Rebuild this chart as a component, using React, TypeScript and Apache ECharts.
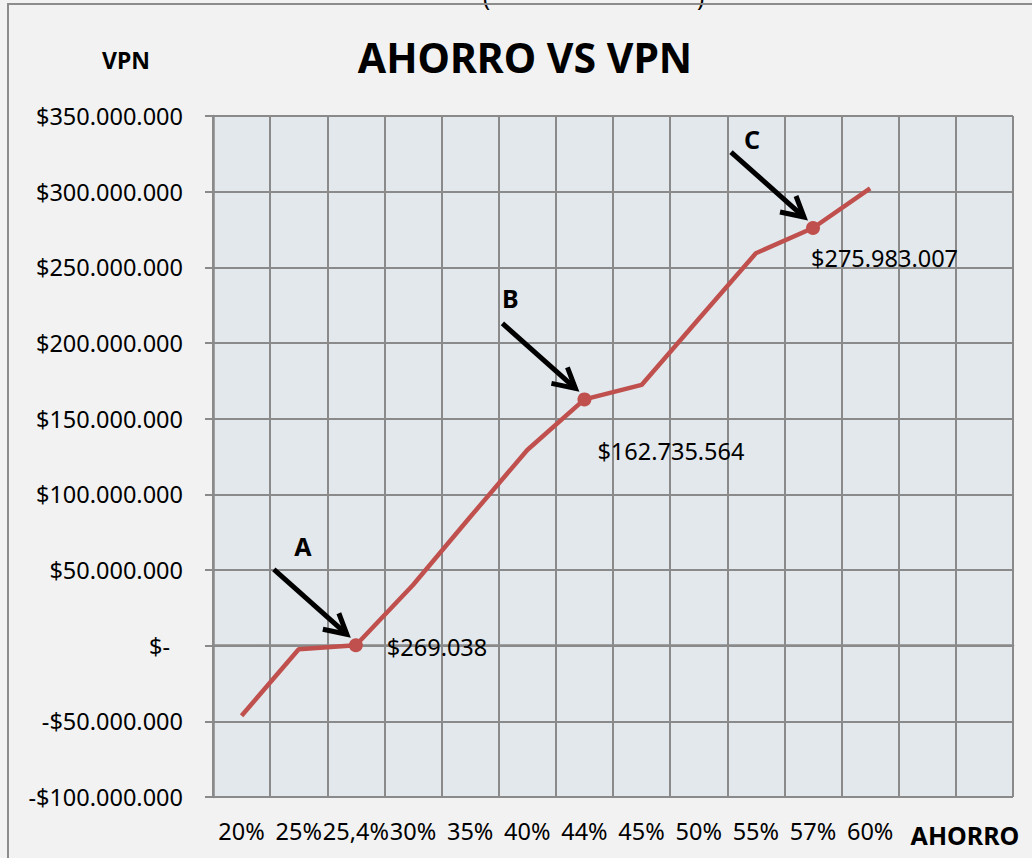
import React, { useEffect, useRef } from "react";
import * as echarts from "echarts";

const categories = ["20%", "25%", "25,4%", "30%", "35%", "40%", "44%", "45%", "50%", "55%", "57%", "60%", "", ""];
const vpnValues = [-46300000, -2400000, 269038, 40100000, 85000000, 129300000, 162735564, 172300000, 215800000, 259300000, 275983007, 302200000];
const yMin = -100000000;
const yMax = 350000000;
const yInterval = 50000000;
const highlightIndex = [2, 6, 10];
const highlightLetters = ["A", "B", "C"];
// label placement relative to symbol box, and letter offsets relative to point (annotation layout)
const labelPos: [number, number][] = [[38, 9], [20, 59], [5, 37]];
const letterOffset: [number, number][] = [[-53, -99], [-74, -101], [-61, -89]];

const FONT = "'Noto Sans', 'Open Sans', sans-serif";
const RED = "#c0504d";
const GRID = "#8a8a8a";

function money(v: number): string {
  if (v === 0) return "$-";
  const s = Math.abs(Math.round(v)).toString().replace(/\B(?=(\d{3})+(?!\d))/g, ".");
  return (v < 0 ? "-$" : "$") + s;
}

export default function App() {
  const ref = useRef<HTMLDivElement>(null);
  useEffect(() => {
    if (!ref.current) return;
    const chart = echarts.init(ref.current, null, { renderer: "svg" });
    const data = vpnValues.map((v, i) => {
      const h = highlightIndex.indexOf(i);
      if (h < 0) return { value: v, symbol: "none" };
      return {
        value: v,
        symbol: "circle",
        symbolSize: 14,
        label: {
          show: true,
          position: labelPos[h],
          align: "left",
          verticalAlign: "middle",
          formatter: () => money(v),
          fontFamily: FONT,
          fontSize: 23.5,
          color: "#000",
        },
      };
    });
    const baseGraphic: any[] = [
      {
        id: "border",
        type: "rect",
        shape: { x: 8, y: 4, width: 1100, height: 1000 },
        style: { fill: "none", stroke: "#8c8c8c", lineWidth: 2 },
        z: 1,
        silent: true,
      },
      { id: "pl", type: "text", x: 483, y: -16, style: { text: "(", font: `24px ${FONT}`, fill: "#000" } },
      { id: "pr", type: "text", x: 697, y: -16, style: { text: ")", font: `24px ${FONT}`, fill: "#000" } },
      {
        id: "title",
        type: "text",
        x: 525,
        y: 57,
        style: { text: "AHORRO VS VPN", font: `bold 41px ${FONT}`, fill: "#000", align: "center", verticalAlign: "middle" },
      },
      {
        id: "yname",
        type: "text",
        x: 126,
        y: 60,
        style: { text: "VPN", font: `bold 23px ${FONT}`, fill: "#000", align: "center", verticalAlign: "middle" },
      },
      {
        id: "xname",
        type: "text",
        x: 965,
        y: 835,
        style: { text: "AHORRO", font: `bold 25px ${FONT}`, fill: "#000", align: "center", verticalAlign: "middle" },
      },
    ];
    chart.setOption({
      animation: false,
      backgroundColor: "#f2f2f2",
      grid: {
        left: 213,
        top: 116,
        width: 800,
        height: 681,
        show: true,
        backgroundColor: "#e3e8ec",
        borderWidth: 0,
        containLabel: false,
      },
      xAxis: {
        type: "category",
        data: categories,
        boundaryGap: true,
        axisLine: { show: true, lineStyle: { color: GRID, width: 2.5 } },
        axisTick: { show: false },
        splitLine: { show: true, lineStyle: { color: GRID, width: 2 } },
        axisLabel: {
          interval: 0,
          margin: 22,
          fontFamily: FONT,
          fontSize: 23.5,
          color: "#000",
        },
      },
      yAxis: {
        type: "value",
        min: yMin,
        max: yMax,
        interval: yInterval,
        axisLine: { show: true, lineStyle: { color: GRID, width: 2.5 } },
        axisTick: { show: true, length: 8, lineStyle: { color: GRID, width: 2 } },
        splitLine: { show: true, lineStyle: { color: GRID, width: 2 } },
        axisLabel: {
          margin: 30,
          fontFamily: FONT,
          fontSize: 23.5,
          color: "#000",
          formatter: (v: number) => (v === 0 ? "{z|$-}" : money(v)),
          rich: { z: { fontFamily: FONT, fontSize: 23.5, color: "#000", padding: [0, 13, 0, 0] } },
        },
      },
      series: [
        {
          type: "line",
          data,
          symbol: "circle",
          showAllSymbol: true,
          itemStyle: { color: RED },
          lineStyle: { color: RED, width: 4.5 },
          z: 5,
        },
      ],
      graphic: baseGraphic,
    });

    const extra: any[] = [];
    highlightIndex.forEach((idx, h) => {
      const p = chart.convertToPixel({ xAxisIndex: 0, yAxisIndex: 0 }, [idx, vpnValues[idx]]) as number[];
      const [px, py] = p;
      const tip = [px - 9, py - 11];
      extra.push({
        id: "shaft" + h,
        type: "line",
        shape: { x1: px - 82, y1: py - 76, x2: tip[0], y2: tip[1] },
        style: { stroke: "#000", lineWidth: 5 },
        z: 10,
      });
      extra.push({
        id: "head" + h,
        type: "polyline",
        shape: { points: [[tip[0] - 8, tip[1] - 21], tip, [tip[0] - 24, tip[1] - 5]] },
        style: { stroke: "#000", lineWidth: 5, fill: "none", lineJoin: "miter" },
        z: 10,
      });
      extra.push({
        id: "letter" + h,
        type: "text",
        x: px + letterOffset[h][0],
        y: py + letterOffset[h][1],
        style: {
          text: highlightLetters[h],
          font: `bold 25px ${FONT}`,
          fill: "#000",
          align: "center",
          verticalAlign: "middle",
        },
        z: 10,
      });
    });
    chart.setOption({ graphic: baseGraphic.concat(extra) }, { replaceMerge: ["graphic"] });

    return () => chart.dispose();
  }, []);
  return (
    <div
      ref={ref}
      style={{ position: "absolute", left: 0, top: 0, width: 1032, height: 858 }}
    />
  );
}
